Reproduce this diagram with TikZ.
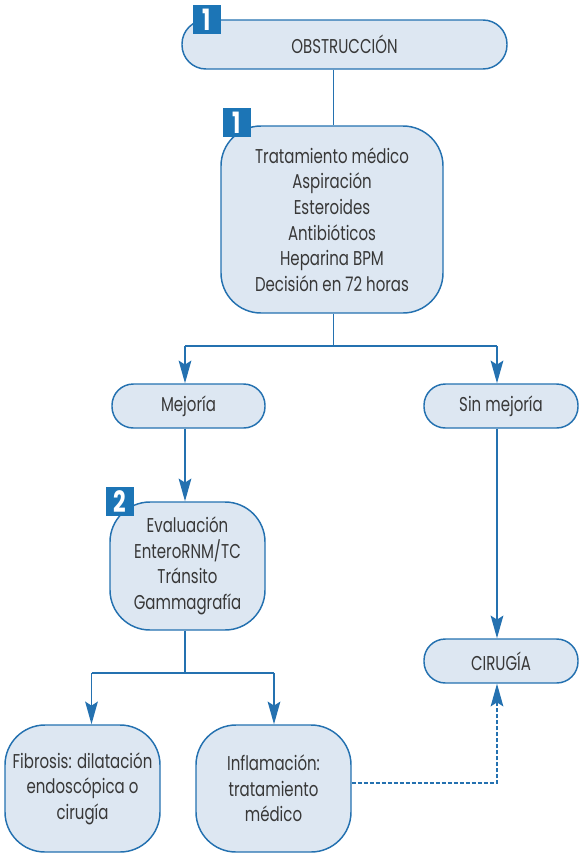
\documentclass[tikz,border=0pt]{standalone}
\usepackage{fontspec}
\setmainfont{Poppins}[FakeStretch=0.75]
\usetikzlibrary{arrows.meta}
\definecolor{boxfill}{HTML}{DDE7F2}
\definecolor{boxline}{HTML}{2471B0}
\definecolor{badgeblue}{HTML}{1C75B6}
\definecolor{txt}{HTML}{383838}
\begin{document}
\begin{tikzpicture}[x=0.75pt,y=-0.75pt,
  box/.style={draw=boxline, fill=boxfill, line width=1.1pt, text=txt,
    align=center, inner sep=0pt, font=\fontsize{15}{19.2}\selectfont},
  pill/.style={box, rounded corners=16pt, minimum height=44*0.75pt},
  bigbox/.style={box, rounded corners=30pt},
  badge/.style={fill=badgeblue, text=white, inner sep=0pt,
    minimum width=28*0.75pt, minimum height=29*0.75pt,
    font=\fontsize{22}{22}\bfseries\selectfont},
  conn/.style={draw=boxline, line width=1.1pt},
  arr/.style={conn, -{Stealth[length=17pt, width=9.5pt, inset=3pt]}},
  darr/.style={draw=boxline, line width=0.9pt, dash pattern=on 3pt off 1.5pt,
    -{Stealth[length=17pt, width=9.5pt, inset=3pt]}}
]
\useasboundingbox (0,0) rectangle (579,854);

\node[pill, minimum width=325*0.75pt, minimum height=49*0.75pt, rounded corners=18pt] (obst) at (344.5,44.5) {OBSTRUCCIÓN};
\node[badge] (b1) at (207,19.5) {1};

\node[bigbox, minimum width=222*0.75pt, minimum height=187*0.75pt] (treat) at (332,219.5)
  {Tratamiento médico\\Aspiración\\Esteroides\\Antibióticos\\Heparina BPM\\Decisión en 72 horas};
\node[badge] (b2) at (237,122.5) {1};

\node[pill, minimum width=153*0.75pt] (mej) at (188.5,406) {Mejoría};
\node[pill, minimum width=154*0.75pt] (sin) at (501,406) {Sin mejoría};

\node[bigbox, minimum width=155*0.75pt, minimum height=128*0.75pt] (eval) at (187.5,566)
  {Evaluación\\EnteroRNM/TC\\Tránsito\\Gammagrafía};
\node[badge] (b3) at (119.5,501.5) {2};

\node[pill, minimum width=154*0.75pt] (cir) at (501,661) {CIRUGÍA};

\node[bigbox, minimum width=155*0.75pt, minimum height=127*0.75pt] (fib) at (82.5,788.5)
  {Fibrosis: dilatación\\endoscópica o\\cirugía};
\node[bigbox, minimum width=155*0.75pt, minimum height=127*0.75pt] (inf) at (273.5,788.5)
  {Inflamación:\\tratamiento\\médico};

\coordinate (s1) at (333.5,346);
\coordinate (s1l) at (185,346);
\coordinate (s1r) at (497,346);
\coordinate (s2) at (185,673);
\coordinate (s2l) at (91.5,673);
\coordinate (s2r) at (274,673);
\coordinate (dc) at (497,783);

\draw[conn] (obst.south -| s1) -- (treat.north -| s1);
\draw[conn] (treat.south -| s1) -- (s1);
\draw[conn] (s1l) -- (s1r);
\draw[arr] (s1l) -- (mej.north -| s1l);
\draw[arr] (s1r) -- (sin.north -| s1r);
\draw[arr] (mej.south -| s1l) -- (eval.north -| s1l);
\draw[arr] (sin.south -| s1r) -- (cir.north -| s1r);
\draw[conn] (eval.south -| s2) -- (s2);
\draw[conn] (s2l) -- (s2r);
\draw[arr] (s2l) -- (fib.north -| s2l);
\draw[arr] (s2r) -- (inf.north -| s2r);
\draw[darr] (inf.east |- dc) -- (dc) -- (cir.south -| dc);
\end{tikzpicture}
\end{document}
